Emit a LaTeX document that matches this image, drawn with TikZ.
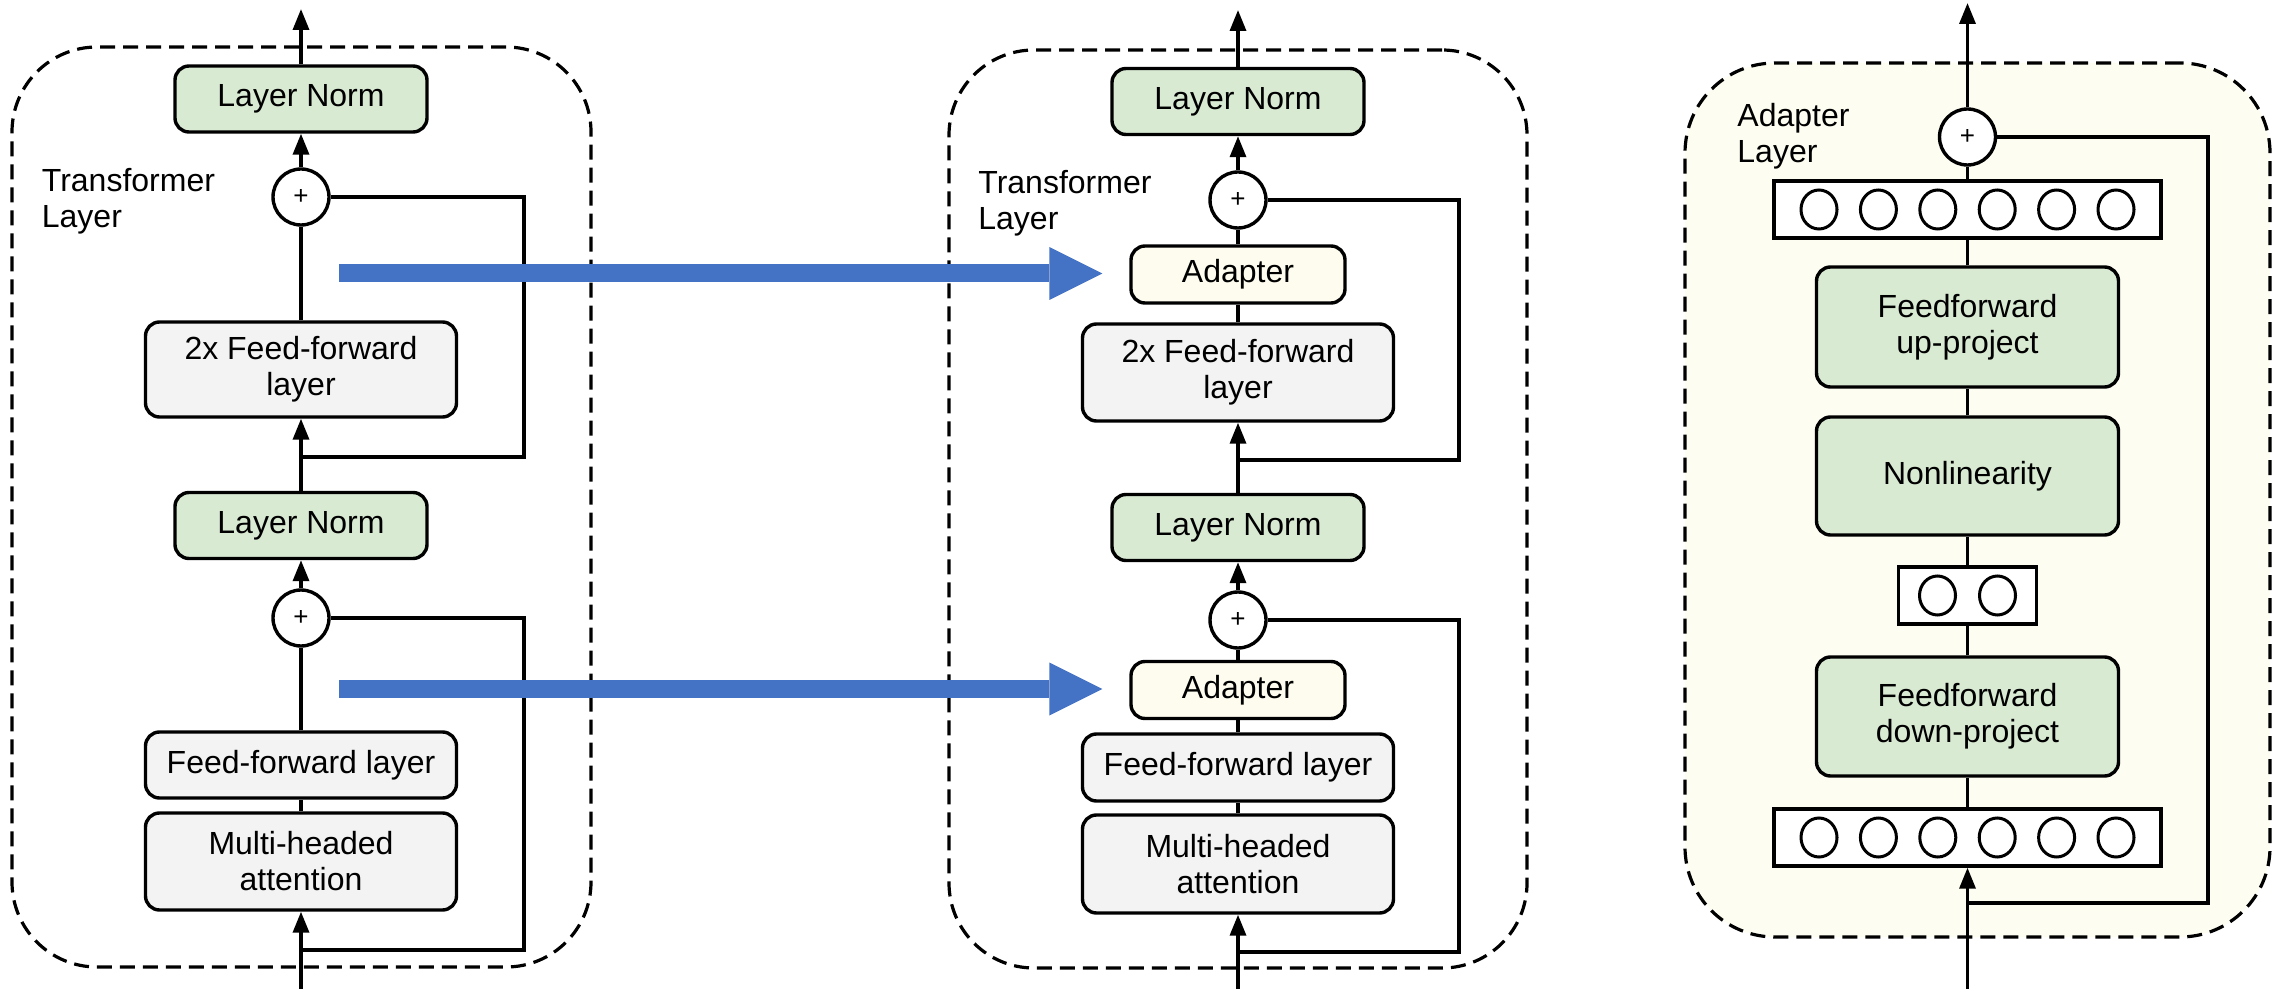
\documentclass[tikz,border=0pt]{standalone}
\usepackage{fontspec}
\setmainfont{Liberation Sans}
\usetikzlibrary{arrows.meta,shapes.geometric}
\definecolor{lngreen}{HTML}{D9EAD3}
\definecolor{ffgray}{HTML}{F3F3F3}
\definecolor{adcream}{HTML}{FEFCEE}
\definecolor{panelcream}{HTML}{FEFDF1}
\definecolor{arrowblue}{HTML}{4472C4}
\begin{document}
\begin{tikzpicture}[x=0.5pt,y=-0.5pt,
  every node/.style={font=\fontsize{16pt}{18pt}\selectfont, align=center, inner sep=0pt},
  box/.style={draw, line width=1.7pt, rounded corners=7pt},
  lnbox/.style={box, fill=lngreen, minimum width=126pt, minimum height=33pt},
  ffbox/.style={box, fill=ffgray, minimum width=155.5pt},
  adbox/.style={box, fill=adcream, minimum width=107pt, minimum height=28.5pt},
  upbox/.style={box, fill=lngreen, minimum width=151pt},
  vecbox/.style={draw, line width=1.7pt, fill=white, minimum height=28.5pt},
  unit/.style={draw, ellipse, line width=1.5pt, minimum width=18pt, minimum height=19.5pt},
  plus/.style={draw, circle, line width=1.7pt, fill=white, minimum size=28pt, font=\fontsize{13pt}{13pt}\selectfont},
  panelbox/.style={draw, line width=1.6pt, dash pattern=on 7.5pt off 4pt, rounded corners=42.5pt},
  lbl/.style={anchor=north west, align=left},
  conn/.style={draw, line width=1.7pt},
  arr/.style={conn, -{Triangle[length=10.5pt, width=8pt]}},
  bigarrow/.style={draw=arrowblue, line width=9pt, shorten >=13.5pt,
    -{Triangle[length=26.5pt, width=26.5pt, line width=0pt]}}
]
\useasboundingbox (0,0) rectangle (2282,989);

% ---------- panel outlines ----------
\node[panelbox, minimum width=289.5pt, minimum height=460pt] (l_panel) at (301.5,507) {};
\node[panelbox, minimum width=289pt, minimum height=459pt] (m_panel) at (1238,509) {};
\node[panelbox, fill=panelcream, rounded corners=45pt, minimum width=292.5pt, minimum height=437pt] (r_panel) at (1977.5,500) {};

% ---------- left: transformer layer ----------
\node[lnbox] (l_ln1) at (301,99) {Layer Norm};
\node[plus] (l_p1) at (301,197) {+};
\node[ffbox, minimum height=47.5pt] (l_ff2) at (301,369.5) {2x Feed-forward\\layer};
\node[lnbox] (l_ln2) at (301,525.5) {Layer Norm};
\node[plus] (l_p2) at (301,618) {+};
\node[ffbox, minimum height=33pt] (l_ff) at (301,765) {Feed-forward layer};
\node[ffbox, minimum height=48.5pt] (l_mha) at (301,861.5) {Multi-headed\\attention};
\node[lbl] (l_lbl) at (41.5,168) {Transformer\\Layer};

\coordinate (l_top) at (301,9);
\coordinate (l_bot) at (301,989);
\coordinate (l_j1) at (301,457);
\coordinate (l_r1) at (524,457);
\coordinate (l_j2) at (301,950);
\coordinate (l_r2) at (524,950);

\draw[arr] (l_ln1.north) -- (l_top);
\draw[arr] (l_p1.north) -- (l_ln1.south);
\draw[conn] (l_ff2.north) -- (l_p1.south);
\draw[arr] (l_ln2.north) -- (l_ff2.south);
\draw[conn] (l_j1) -- (l_r1) |- (l_p1.east);
\draw[arr] (l_p2.north) -- (l_ln2.south);
\draw[conn] (l_ff.north) -- (l_p2.south);
\draw[conn] (l_mha.north) -- (l_ff.south);
\draw[arr] (l_bot) -- (l_mha.south);
\draw[conn] (l_j2) -- (l_r2) |- (l_p2.east);

% ---------- middle: transformer layer with adapters ----------
\node[lnbox] (m_ln1) at (1238,101.5) {Layer Norm};
\node[plus] (m_p1) at (1238,200) {+};
\node[adbox] (m_ad1) at (1238,274.5) {Adapter};
\node[ffbox, minimum height=48.5pt] (m_ff2) at (1238,372.5) {2x Feed-forward\\layer};
\node[lnbox] (m_ln2) at (1238,527.5) {Layer Norm};
\node[plus] (m_p2) at (1238,620) {+};
\node[adbox] (m_ad2) at (1238,690) {Adapter};
\node[ffbox, minimum height=33.5pt] (m_ff) at (1238,767.5) {Feed-forward layer};
\node[ffbox, minimum height=49pt] (m_mha) at (1238,864) {Multi-headed\\attention};
\node[lbl] (m_lbl) at (978,170) {Transformer\\Layer};

\coordinate (m_top) at (1238,10);
\coordinate (m_bot) at (1238,989);
\coordinate (m_j1) at (1238,460);
\coordinate (m_r1) at (1459,460);
\coordinate (m_j2) at (1238,952);
\coordinate (m_r2) at (1459,952);

\draw[arr] (m_ln1.north) -- (m_top);
\draw[arr] (m_p1.north) -- (m_ln1.south);
\draw[conn] (m_ad1.north) -- (m_p1.south);
\draw[conn] (m_ff2.north) -- (m_ad1.south);
\draw[arr] (m_ln2.north) -- (m_ff2.south);
\draw[conn] (m_j1) -- (m_r1) |- (m_p1.east);
\draw[arr] (m_p2.north) -- (m_ln2.south);
\draw[conn] (m_ad2.north) -- (m_p2.south);
\draw[conn] (m_ff.north) -- (m_ad2.south);
\draw[conn] (m_mha.north) -- (m_ff.south);
\draw[arr] (m_bot) -- (m_mha.south);
\draw[conn] (m_j2) -- (m_r2) |- (m_p2.east);

% ---------- right: adapter layer ----------
\node[plus] (r_p) at (1967.5,137) {+};
\node[vecbox, minimum width=193.5pt] (r_vt) at (1967.5,209.5) {};
\node[upbox, minimum height=60pt] (r_up) at (1967.5,327) {Feedforward\\up-project};
\node[upbox, minimum height=59pt] (r_nl) at (1967.5,476) {Nonlinearity};
\node[vecbox, minimum width=69pt] (r_vs) at (1967.5,595.5) {};
\node[upbox, minimum height=59.5pt] (r_dn) at (1967.5,716.5) {Feedforward\\down-project};
\node[vecbox, minimum width=193.5pt] (r_vb) at (1967.5,837.5) {};
\node[lbl] (r_lbl) at (1737,103) {Adapter\\Layer};

\foreach \i/\dx in {1/-148.5,2/-89.1,3/-29.7,4/29.7,5/89.1,6/148.5}{
  \node[unit] (r_vt\i) at ([xshift=\dx*0.5pt]r_vt.center) {};
  \node[unit] (r_vb\i) at ([xshift=\dx*0.5pt]r_vb.center) {};
}
\node[unit] (r_vs1) at ([xshift=-15pt]r_vs.center) {};
\node[unit] (r_vs2) at ([xshift=15pt]r_vs.center) {};

\coordinate (r_top) at (1967.5,3);
\coordinate (r_bot) at (1967.5,989);
\coordinate (r_j) at (1967.5,903);
\coordinate (r_r) at (2208,903);

\draw[arr] (r_p.north) -- (r_top);
\draw[conn] (r_vt.north) -- (r_p.south);
\draw[conn] (r_up.north) -- (r_vt.south);
\draw[conn] (r_nl.north) -- (r_up.south);
\draw[conn] (r_vs.north) -- (r_nl.south);
\draw[conn] (r_dn.north) -- (r_vs.south);
\draw[conn] (r_vb.north) -- (r_dn.south);
\draw[arr] (r_bot) -- (r_vb.south);
\draw[conn] (r_j) -- (r_r) |- (r_p.east);

% ---------- insertion arrows ----------
\coordinate (b1s) at (339,273.5);
\coordinate (b2s) at (339,689);
\draw[bigarrow] (b1s) -- (b1s -| m_ad1.west);
\draw[bigarrow] (b2s) -- (b2s -| m_ad2.west);
\end{tikzpicture}
\end{document}
